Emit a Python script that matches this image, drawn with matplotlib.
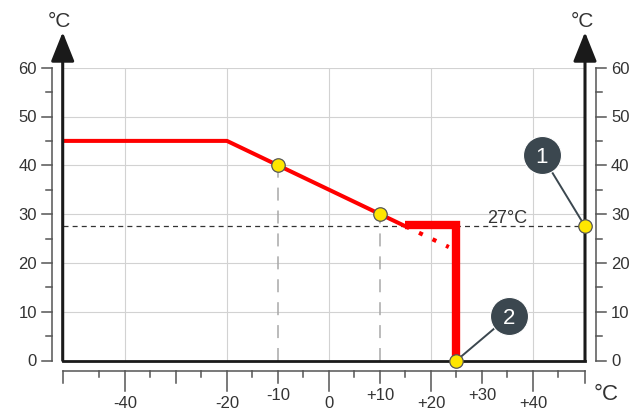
import matplotlib
matplotlib.use("Agg")
import matplotlib.pyplot as plt

plt.rcParams['font.family'] = ['Liberation Sans', 'DejaVu Sans']

# heating curve: outdoor temp (x) -> flow temp (y)
curve_x = [-52, -20, -10, 10, 15]
curve_y = [45, 45, 40, 30, 27.5]
# curve continued below the limit (dotted)
dotted_x = [15, 23.5]
dotted_y = [27.5, 23.25]
# summer limit: hold 27.5 °C, switch off at +25 °C
limit_x = [15, 25, 25]
limit_y = [27.8, 27.8, 0]
limit_temp = 27.5
limit_label = '27°C'

# yellow points
points_x = [-10, 10, 25, 50.2]
points_y = [40, 30, 0, 27.5]
# numbered callouts: centre and the point they point at
callout_nums = ['1', '2']
callout_x = [41.7, 35.3]
callout_y = [42.1, 9.1]
callout_px = [50.2, 25]
callout_py = [27.5, 0]

# axes
x_min, x_max = -52.2, 50.2
y_ticks = [0, 10, 20, 30, 40, 50, 60]
y_minor = [5, 15, 25, 35, 45, 55]
x_long = [-40, -20, 0, 20, 40]
x_mid = [-30, -10, 10, 30]
x_short = [-45, -35, -25, -15, -5, 5, 15, 25, 35, 45]
x_labels_low = {-40: '-40', -20: '-20', 0: '0', 20: '+20', 40: '+40'}
x_labels_high = {-10: '-10', 10: '+10', 30: '+30'}
grid_x = [-40, -20, 0, 20, 40]
grid_y = [10, 20, 30, 40, 50, 60]

W, H = 642, 412
fig = plt.figure(figsize=(W / 100, H / 100), dpi=100)
ax = fig.add_axes([62.7 / W, 51.5 / H, 522.3 / W, 292.8 / H])
ax.set_xlim(x_min, x_max)
ax.set_ylim(0, 60)
ax.axis('off')

# data units per pixel
px = (x_max - x_min) / 522.3
py = 60 / 292.8

txt = '#333333'
red = '#ff0000'

# grid
ax.vlines(grid_x, 0, 60, color='#d2d2d2', lw=0.8, zorder=1)
ax.hlines(grid_y, x_min, x_max, color='#d2d2d2', lw=0.8, zorder=1)

# dashed helpers
for xx, yy in zip(points_x[:2], points_y[:2]):
    ax.plot([xx, xx], [0, yy], color='#a8a8a8', lw=1.1, dashes=(8.5, 6.5), zorder=2)
ax.plot([x_min, x_max], [limit_temp, limit_temp], color='#333333', lw=0.9,
        dashes=(4, 3.3), zorder=2)
ax.text(34.9, limit_temp + 0.7, limit_label, fontsize=13, color=txt,
        ha='center', va='baseline', zorder=7)

# red curve
ax.plot(curve_x, curve_y, color=red, lw=2.9, solid_capstyle='butt', zorder=3)
ax.plot(dotted_x, dotted_y, color=red, lw=3, dashes=(1.0, 2.6),
        dash_capstyle='butt', zorder=3)
ax.plot(limit_x, limit_y, color=red, lw=6, solid_joinstyle='miter',
        solid_capstyle='butt', zorder=3)

# frame with arrows
ax.plot([x_min, x_max], [0, 0], color='#1a1a1a', lw=2, solid_capstyle='projecting',
        zorder=4, clip_on=False)
for xx in (x_min, x_max):
    ax.annotate('', xy=(xx, 67.3), xytext=(xx, 0), annotation_clip=False,
                arrowprops=dict(arrowstyle='-|>,head_length=0.9,head_width=0.36',
                                mutation_scale=20, lw=2.2, color='#1a1a1a',
                                shrinkA=0, shrinkB=0), zorder=4)
    ax.text(xx - 0.6, 68.4, '°C', fontsize=15, color=txt, ha='center',
            va='baseline', clip_on=False)

# left and right temperature scales
for sx, sign, ha in ((-54.3, -1, 'right'), (52.35, 1, 'left')):
    ax.plot([sx, sx], [0, 60], color='#555555', lw=1.1, clip_on=False)
    for t in y_ticks:
        ax.plot([sx, sx + sign * 10.3 * px], [t, t], color='#555555', lw=1.1,
                clip_on=False)
        ax.text(sx + sign * 15 * px, t - 1.2, str(t), fontsize=12, color=txt,
                ha=ha, va='baseline', clip_on=False)
    for t in y_minor:
        ax.plot([sx, sx + sign * 5.7 * px], [t, t], color='#555555', lw=1.1,
                clip_on=False)

# outdoor temperature scale
by = -10.2 * py
ax.plot([x_min, x_max], [by, by], color='#555555', lw=1.1, clip_on=False)
for ticks, length in ((x_long, 20), (x_mid + [x_min, x_max], 12), (x_short, 6.7)):
    for t in ticks:
        ax.plot([t, t], [by, by - length * py], color='#555555', lw=1.1,
                clip_on=False)
for t, lab in x_labels_low.items():
    ax.text(t, -47.5 * py, lab, fontsize=12, color=txt, ha='center',
            va='baseline', clip_on=False)
for t, lab in x_labels_high.items():
    ax.text(t, -39 * py, lab, fontsize=12, color=txt, ha='center',
            va='baseline', clip_on=False)
ax.text(54.3, -40 * py, '°C', fontsize=16, color=txt, ha='center',
        va='baseline', clip_on=False)

# callouts
for num, cx, cy, tx, ty in zip(callout_nums, callout_x, callout_y, callout_px, callout_py):
    ax.plot([tx, cx], [ty, cy], color='#3b474f', lw=1.4, zorder=4, clip_on=False)
    ax.scatter([cx], [cy], s=750, color='#3b474f', edgecolor='white', lw=0.8,
               zorder=6, clip_on=False)
    ax.text(cx, cy, num, fontsize=16, color='white', ha='center',
            va='center_baseline', zorder=7)

ax.plot(points_x, points_y, 'o', ms=9.7, mfc='#ffe600', mec='#555555', mew=0.9,
        zorder=5, clip_on=False)

fig.savefig('out.png', dpi=100)
